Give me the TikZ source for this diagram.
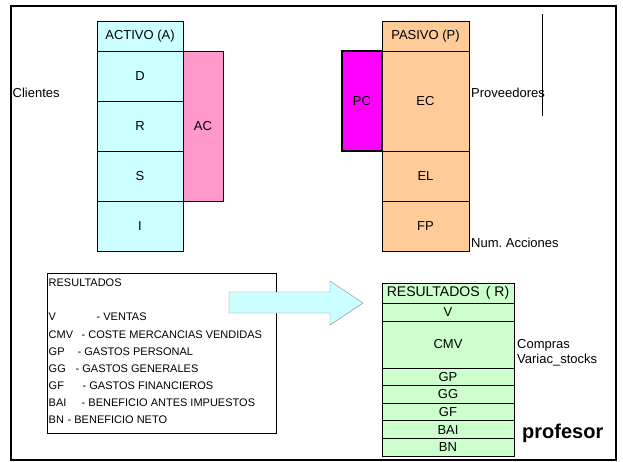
\documentclass[tikz,border=0pt]{standalone}
\usepackage{fontspec}
\setmainfont{Liberation Sans}
\usetikzlibrary{positioning}
\definecolor{activo}{HTML}{CCFFFF}
\definecolor{acpink}{HTML}{FF99CC}
\definecolor{pasivo}{HTML}{FFCC99}
\definecolor{pcmag}{HTML}{FF00FF}
\definecolor{result}{HTML}{CCFFCC}

\begin{document}
\begin{tikzpicture}[x=1pt,y=-1pt,
        cell/.style = {draw, rectangle, inner sep=0pt, outer sep=0pt, font=\fontsize{13}{15}\selectfont},
        act/.style = {cell, fill=activo, minimum width=86pt, minimum height=50pt},
        pas/.style = {cell, fill=pasivo, minimum width=87pt, minimum height=50pt},
        res/.style = {cell, fill=result, line width=0.9pt, minimum width=132pt, minimum height=17.6pt},
        lbl/.style = {inner sep=0pt, anchor=west, font=\fontsize{13}{15}\selectfont},
        leg/.style = {inner sep=0pt, anchor=west, font=\fontsize{11}{13}\selectfont}]
        \useasboundingbox (0,0) rectangle (623,461);
        \draw[line width=2pt] (11,6) rectangle (616,459.5);
        % activo
        \node[act, minimum height=30pt, anchor=north west] (A) at (97,21) {ACTIVO (A)};
        \node[act] (D) [below=0pt of A] {D};
        \node[act] (R) [below=0pt of D] {R};
        \node[act] (S) [below=0pt of R] {S};
        \node[act] (I) [below=0pt of S] {I};
        \node[cell, fill=acpink, minimum width=40pt, minimum height=150pt] (AC) [right=0pt of R] {AC};
        \node[lbl] (cli) at (12.5,93) {Clientes};
        % pasivo
        \node[pas, minimum height=30pt, anchor=north west] (P) at (382,21) {PASIVO (P)};
        \node[pas, minimum height=100pt] (EC) [below=0pt of P] {EC};
        \node[pas] (EL) [below=0pt of EC] {EL};
        \node[pas] (FP) [below=0pt of EL] {FP};
        \node[cell, fill=pcmag, line width=1.5pt, minimum width=40pt, minimum height=100pt] (PC) [left=0pt of EC] {PC};
        \node[lbl] (prov) at (471,93) {Proveedores};
        \draw (542,14) -- (542,116);
        \node[lbl] (num) at (471,243) {Num.\ Acciones};
        % leyenda
        \node[draw, rectangle, inner sep=0pt, minimum width=229pt, minimum height=160pt, anchor=north west] (L) at (47,273) {};
        \node[leg] (l0) at (48.5,283) {RESULTADOS};
        \node[leg] (l1) at (48.5,317) {\makebox[48pt][l]{V}- VENTAS};
        \node[leg] (l2) at (48.5,335) {\makebox[33pt][l]{CMV}- COSTE MERCANCIAS VENDIDAS};
        \node[leg] (l3) at (48.5,352) {\makebox[29pt][l]{GP}- GASTOS PERSONAL};
        \node[leg] (l4) at (48.5,368.5) {\makebox[27pt][l]{GG}- GASTOS GENERALES};
        \node[leg] (l5) at (48.5,386) {\makebox[34pt][l]{GF}- GASTOS FINANCIEROS};
        \node[leg] (l6) at (48.5,403) {\makebox[33pt][l]{BAI}- BENEFICIO ANTES IMPUESTOS};
        \node[leg] (l7) at (48.5,420) {\makebox[19pt][l]{BN}- BENEFICIO NETO};
        \draw[draw=gray, fill=activo] (229,292) -- (330,292) -- (330,281) -- (363,303)
            -- (330,325) -- (330,313) -- (229,313) -- cycle;
        % resultados
        \node[res, minimum height=20pt, anchor=north west, font=\fontsize{14}{16}\selectfont] (RES) at (382,283) {RESULTADOS \,( R)};
        \node[res, minimum height=18pt] (V) [below=0pt of RES] {V};
        \node[res, minimum height=47pt] (CMV) [below=0pt of V] {CMV};
        \node[res] (GP) [below=0pt of CMV] {GP};
        \node[res] (GG) [below=0pt of GP] {GG};
        \node[res] (GF) [below=0pt of GG] {GF};
        \node[res] (BAI) [below=0pt of GF] {BAI};
        \node[res] (BN) [below=0pt of BAI] {BN};
        \node[lbl, align=left] (comp) at (517,352.5) {Compras\\Variac\_stocks};
        \node[lbl, font=\bfseries\fontsize{20}{24}\selectfont] (prof) at (522,433) {profesor};
\end{tikzpicture}
\end{document}
